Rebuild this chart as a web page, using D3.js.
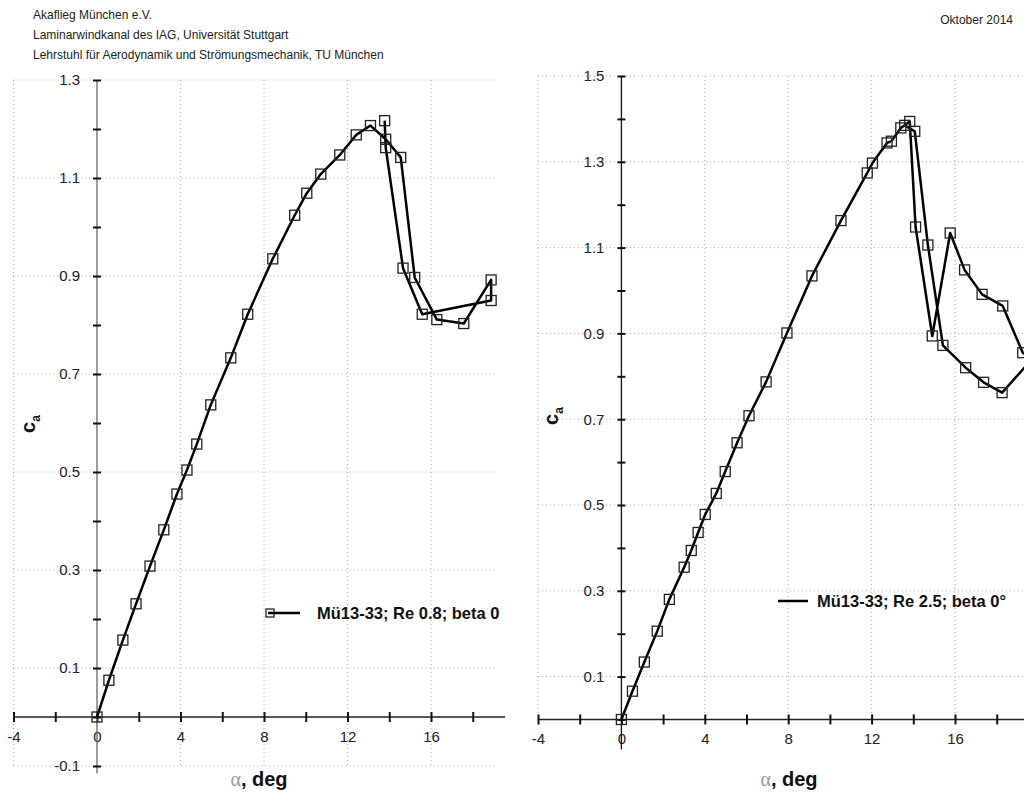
<!DOCTYPE html>
<html>
<head>
<meta charset="utf-8">
<script src="https://cdn.jsdelivr.net/npm/d3@7"></script>
<style>
  body { margin: 0; background: #fff; }
  svg text { font-family: "Liberation Sans", Arial, sans-serif; }
</style>
</head>
<body>
<div id="chart"></div>
<script>
// header lines
const headerLines = [
    "Akaflieg München e.V.",
    "Laminarwindkanal des IAG, Universität Stuttgart",
    "Lehrstuhl für Aerodynamik und Strömungsmechanik, TU München"
];
const dateLabel = "Oktober 2014";

// tick values
const xTickVals = [-4, -2, 0, 2, 4, 6, 8, 10, 12, 14, 16, 18];
const xLabelVals = [-4, 0, 4, 8, 12, 16];
const leftYTicks = [-0.1, 0, 0.1, 0.2, 0.3, 0.4, 0.5, 0.6, 0.7, 0.8, 0.9, 1.0, 1.1, 1.2, 1.3];
const leftYLabels = [-0.1, 0.1, 0.3, 0.5, 0.7, 0.9, 1.1, 1.3];
const rightYTicks = [0, 0.1, 0.2, 0.3, 0.4, 0.5, 0.6, 0.7, 0.8, 0.9, 1.0, 1.1, 1.2, 1.3, 1.4, 1.5];
const rightYLabels = [0.1, 0.3, 0.5, 0.7, 0.9, 1.1, 1.3, 1.5];

// Re 0.8 series (in measurement order)
const leftAlpha = [0, 0.57, 1.24, 1.87, 2.54, 3.2, 3.83, 4.31, 4.78, 5.45, 6.41, 7.22, 8.42, 9.47,
    10.05, 10.72, 11.63, 12.42, 13.1, 13.83, 14.55, 15.22, 16.28, 17.57, 18.88, 18.88,
    15.58, 14.66, 13.83, 13.78];
const leftCa = [0, 0.075, 0.157, 0.231, 0.308, 0.382, 0.455, 0.504, 0.557, 0.637, 0.733, 0.822, 0.935, 1.024,
    1.069, 1.108, 1.147, 1.188, 1.207, 1.179, 1.142, 0.897, 0.811, 0.803, 0.892, 0.850,
    0.822, 0.916, 1.162, 1.217];
const leftName = "Mü13-33; Re 0.8; beta 0";

// Re 2.5 series (in measurement order)
const rightAlpha = [0, 0.53, 1.1, 1.72, 2.3, 3.01, 3.35, 3.68, 4.02, 4.55, 4.98, 5.55, 6.12, 6.94, 7.94,
    9.14, 10.53, 11.79, 12.04, 12.74, 12.95, 13.4, 13.83, 14.11, 14.91, 15.77, 16.46, 17.3, 18.29,
    19.25, 19.7, 18.26, 17.37, 16.51, 15.42, 14.7, 14.07, 13.59];
const rightCa = [0, 0.066, 0.134, 0.206, 0.280, 0.355, 0.394, 0.436, 0.478, 0.527, 0.578, 0.645, 0.708, 0.787, 0.901,
    1.034, 1.163, 1.274, 1.297, 1.344, 1.348, 1.379, 1.394, 1.148, 0.894, 1.134, 1.048, 0.991, 0.964,
    0.855, 0.84, 0.762, 0.786, 0.820, 0.872, 1.106, 1.371, 1.385];
const rightName = "Mü13-33; Re 2.5; beta 0°";

const width = 1024, height = 795;

const svg = d3.select("#chart")
    .append("svg")
    .attr("width", width)
    .attr("height", height);

// header
svg.append("g").selectAll("text")
    .data(headerLines)
    .join("text")
    .attr("x", 33)
    .attr("y", (d, i) => 19 + i * 20)
    .attr("font-size", "12px")
    .attr("fill", "#222")
    .text(d => d);

svg.append("text")
    .attr("x", 1013)
    .attr("y", 24)
    .attr("text-anchor", "end")
    .attr("font-size", "12px")
    .attr("fill", "#222")
    .text(dateLabel);

function drawPanel(cfg) {
    const x = d3.scaleLinear().domain([-4, 16]).range(cfg.xRange);
    const y = d3.scaleLinear().domain(cfg.yDomain).range(cfg.yRange);
    const g = svg.append("g");

    // dotted grid
    const grid = g.append("g")
        .attr("stroke", "#aaa")
        .attr("stroke-width", 1)
        .attr("stroke-dasharray", "1,3");
    grid.selectAll("line.h")
        .data(cfg.yLabels)
        .join("line")
        .attr("class", "h")
        .attr("x1", x(-4)).attr("x2", x(cfg.gridXMax))
        .attr("y1", d => y(d)).attr("y2", d => y(d));
    grid.selectAll("line.v")
        .data([-4, 4, 8, 12, 16])
        .join("line")
        .attr("class", "v")
        .attr("x1", d => x(d)).attr("x2", d => x(d))
        .attr("y1", y(cfg.yLabels[cfg.yLabels.length - 1])).attr("y2", y(cfg.gridYMin));

    // x axis
    const xAxis = g.append("g")
        .attr("transform", `translate(0,${y(0)})`)
        .call(d3.axisBottom(x)
            .tickValues(xTickVals)
            .tickSize(0)
            .tickPadding(14)
            .tickFormat(d => xLabelVals.includes(d) ? d : ""));
    xAxis.select(".domain")
        .attr("d", `M${x(-4)},0H${x(cfg.xAxisMax)}`)
        .attr("stroke", "#222")
        .attr("stroke-width", 1.3);
    xAxis.selectAll(".tick line")
        .attr("y1", -5).attr("y2", 5)
        .attr("stroke", "#111")
        .attr("stroke-width", 2);
    xAxis.selectAll(".tick text")
        .attr("font-size", "15px")
        .attr("fill", "#222")
        .attr("font-family", "Liberation Sans, Arial, sans-serif");

    // y axis
    const yAxis = g.append("g")
        .attr("transform", `translate(${x(0)},0)`)
        .call(d3.axisLeft(y)
            .tickValues(cfg.yTicks)
            .tickSize(0)
            .tickPadding(17)
            .tickFormat(d => cfg.yLabels.some(v => Math.abs(v - d) < 1e-9) ? d.toFixed(1) : ""));
    yAxis.select(".domain")
        .attr("d", `M0,${y(cfg.yDomain[1])}V${y(cfg.yAxisMin)}`)
        .attr("stroke", cfg.yAxisColor)
        .attr("stroke-width", 1.3);
    yAxis.selectAll(".tick line")
        .attr("x1", -4).attr("x2", 4)
        .attr("stroke", "#111")
        .attr("stroke-width", 2);
    yAxis.selectAll(".tick text")
        .attr("font-size", "15px")
        .attr("fill", "#222")
        .attr("font-family", "Liberation Sans, Arial, sans-serif");

    // curve
    const pts = cfg.alpha.map((a, i) => [a, cfg.ca[i]]);
    g.append("path")
        .datum(pts)
        .attr("fill", "none")
        .attr("stroke", "#000")
        .attr("stroke-width", 2.5)
        .attr("stroke-linejoin", "round")
        .attr("d", d3.line().x(d => x(d[0])).y(d => y(d[1])));

    g.append("g")
        .selectAll("rect")
        .data(pts)
        .join("rect")
        .attr("x", d => x(d[0]) - 5)
        .attr("y", d => y(d[1]) - 5)
        .attr("width", 10)
        .attr("height", 10)
        .attr("fill", "none")
        .attr("stroke", "#222")
        .attr("stroke-width", 1.3);

    // axis titles
    const xt = g.append("text")
        .attr("x", cfg.xTitleX)
        .attr("y", 786)
        .attr("text-anchor", "middle")
        .attr("font-size", "20px");
    xt.append("tspan")
        .attr("fill", "#999")
        .attr("font-family", "Liberation Serif, serif")
        .text("α");
    xt.append("tspan")
        .attr("font-weight", "bold")
        .attr("fill", "#111")
        .text(", deg");

    const yt = g.append("text")
        .attr("transform", `translate(${cfg.yTitleX},${cfg.yTitleY}) rotate(-90)`)
        .attr("text-anchor", "middle")
        .attr("font-weight", "bold")
        .attr("font-size", "20px")
        .attr("fill", "#111");
    yt.append("tspan").text("c");
    yt.append("tspan")
        .attr("font-size", "12px")
        .attr("dy", 5)
        .text("a");

    // legend
    const lg = g.append("g")
        .attr("transform", `translate(${cfg.legendX},${cfg.legendY})`);
    lg.append("line")
        .attr("x1", cfg.legendLineX).attr("x2", 32)
        .attr("stroke", "#000")
        .attr("stroke-width", 2.5);
    if (cfg.legendMarker) {
        lg.append("rect")
            .attr("x", -2).attr("y", -4)
            .attr("width", 8).attr("height", 8)
            .attr("fill", "none")
            .attr("stroke", "#222")
            .attr("stroke-width", 1.3);
    }
    lg.append("text")
        .attr("x", cfg.legendTextX)
        .attr("y", 5.5)
        .attr("font-weight", "bold")
        .attr("font-size", "16.5px")
        .attr("fill", "#111")
        .text(cfg.name);
}

drawPanel({
    xRange: [13.5, 431],
    yDomain: [-0.1, 1.3],
    yRange: [766, 80],
    yTicks: leftYTicks,
    yLabels: leftYLabels,
    gridXMax: 19.1,
    gridYMin: -0.1,
    xAxisMax: 19.55,
    yAxisMin: -0.115,
    yAxisColor: "#666",
    alpha: leftAlpha,
    ca: leftCa,
    name: leftName,
    xTitleX: 259,
    yTitleX: 35,
    yTitleY: 424,
    legendX: 268,
    legendY: 613,
    legendLineX: 0,
    legendTextX: 49,
    legendMarker: true
});

drawPanel({
    xRange: [538, 955],
    yDomain: [0, 1.5],
    yRange: [719.5, 76],
    yTicks: rightYTicks,
    yLabels: rightYLabels,
    gridXMax: 22,
    gridYMin: 0,
    xAxisMax: 22,
    yAxisMin: -0.07,
    yAxisColor: "#111",
    alpha: rightAlpha,
    ca: rightCa,
    name: rightName,
    xTitleX: 789,
    yTitleX: 558,
    yTitleY: 416,
    legendX: 776,
    legendY: 601,
    legendLineX: 2,
    legendTextX: 41,
    legendMarker: false
});
</script>
</body>
</html>
